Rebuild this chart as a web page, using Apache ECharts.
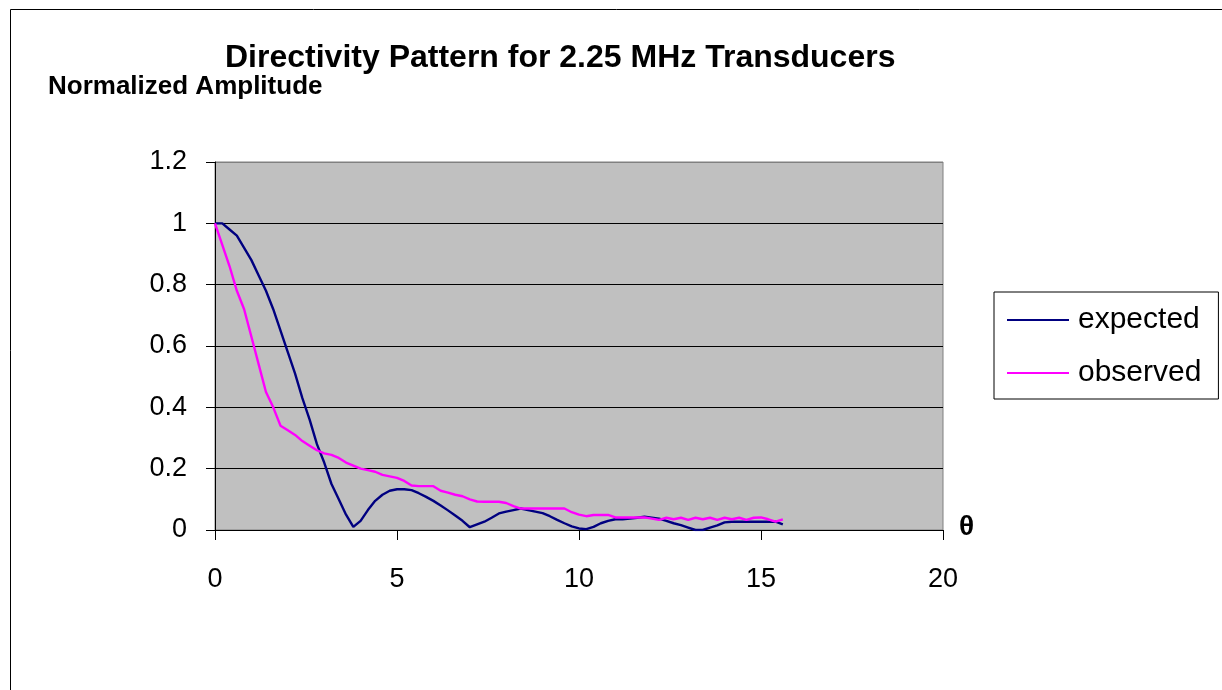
<!DOCTYPE html>
<html>
<head>
<meta charset="utf-8">
<script src="https://cdn.jsdelivr.net/npm/echarts@6/dist/echarts.min.js"></script>
<style>
html,body{margin:0;padding:0;background:#fff;}
#c{width:1222px;height:690px;}
</style>
</head>
<body>
<div id="c"></div>
<script>
const titleText = 'Directivity Pattern for 2.25 MHz Transducers';
const yName = 'Normalized Amplitude';
const xName = 'θ';
const seriesNames = ['expected', 'observed'];
const theta = [0,0.2,0.4,0.6,0.8,1.0,1.2,1.4,1.6,1.8,2.0,2.2,2.4,2.6,2.8,3.0,3.2,3.4,3.6,3.8,
  4.0,4.2,4.4,4.6,4.8,5.0,5.2,5.4,5.6,5.8,6.0,6.2,6.4,6.6,6.8,7.0,7.2,7.4,7.6,7.8,
  8.0,8.2,8.4,8.6,8.8,9.0,9.2,9.4,9.6,9.8,10.0,10.2,10.4,10.6,10.8,11.0,11.2,11.4,11.6,11.8,
  12.0,12.2,12.4,12.6,12.8,13.0,13.2,13.4,13.6,13.8,14.0,14.2,14.4,14.6,14.8,15.0,15.2,15.4,15.6];
const expected = [1.0,1.0,0.98,0.96,0.92,0.88,0.83,0.78,0.72,0.65,0.58,0.51,0.43,0.36,0.28,0.22,0.15,0.10,0.05,0.01,
  0.03,0.065,0.095,0.115,0.128,0.133,0.133,0.13,0.12,0.108,0.095,0.08,0.064,0.047,0.03,0.009,0.018,0.027,0.04,0.054,
  0.06,0.065,0.07,0.065,0.06,0.055,0.045,0.033,0.022,0.012,0.005,0.003,0.01,0.022,0.03,0.035,0.035,0.037,0.04,0.043,
  0.04,0.037,0.03,0.022,0.016,0.008,0.0,0.0,0.008,0.015,0.025,0.027,0.027,0.027,0.027,0.027,0.027,0.027,0.018];
const observed = [1.0,0.93,0.86,0.78,0.72,0.63,0.54,0.45,0.40,0.34,0.325,0.31,0.29,0.275,0.26,0.25,0.245,0.235,0.22,0.21,
  0.20,0.195,0.19,0.18,0.175,0.17,0.16,0.145,0.143,0.143,0.143,0.128,0.122,0.115,0.11,0.10,0.093,0.092,0.092,0.092,
  0.088,0.078,0.07,0.07,0.07,0.07,0.07,0.07,0.07,0.058,0.05,0.045,0.049,0.049,0.049,0.041,0.041,0.041,0.041,0.041,
  0.037,0.033,0.04,0.035,0.04,0.033,0.04,0.035,0.04,0.033,0.04,0.035,0.04,0.033,0.04,0.041,0.035,0.027,0.035];

const FONT = '"Liberation Sans", Arial, sans-serif';
const chart = echarts.init(document.getElementById('c'), null, {renderer: 'canvas'});
chart.setOption({
  animation: false,
  backgroundColor: '#ffffff',
  textStyle: {fontFamily: FONT},
  title: [
    {text: titleText, left: 220, top: 37, textStyle: {fontFamily: FONT, fontWeight: 'bold', fontSize: 32, color: '#000'}},
    {text: yName, left: 43, top: 69, textStyle: {fontFamily: FONT, fontWeight: 'bold', fontSize: 26, color: '#000'}},
    {text: xName, left: 954, top: 508, textStyle: {fontFamily: FONT, fontWeight: 'bold', fontSize: 28, color: '#000'}}
  ],
  graphic: [
    {type: 'rect', z: -1, shape: {x: 10.5, y: 9.5, width: 1300, height: 800}, style: {fill: 'none', stroke: '#000', lineWidth: 1}}
  ],
  legend: {
    orient: 'vertical',
    left: 994, top: 292,
    padding: [13, 17, 11, 12],
    itemGap: 23,
    itemWidth: 62, itemHeight: 2,
    borderColor: '#000', borderWidth: 1,
    backgroundColor: '#fff',
    textStyle: {fontFamily: FONT, fontSize: 30, color: '#000', lineHeight: 30, padding: [0, 0, 0, 4]},
    data: seriesNames
  },
  grid: {
    left: 215, right: 279, top: 162, bottom: 160,
    show: true, backgroundColor: '#C0C0C0', borderColor: '#808080', borderWidth: 1,
    containLabel: false
  },
  xAxis: {
    type: 'value', min: 0, max: 20, interval: 5,
    axisLine: {show: true, onZero: false, lineStyle: {color: '#000', width: 1}},
    axisTick: {show: true, inside: false, length: 10, lineStyle: {color: '#000'}},
    axisLabel: {fontFamily: FONT, fontSize: 27, color: '#000', margin: 36},
    splitLine: {show: false}
  },
  yAxis: {
    type: 'value', min: 0, max: 1.2, interval: 0.2,
    axisLine: {show: true, lineStyle: {color: '#000', width: 1}},
    axisTick: {show: true, inside: false, length: 9, lineStyle: {color: '#000'}},
    axisLabel: {fontFamily: FONT, fontSize: 27, color: '#000', margin: 28, formatter: v => String(Math.round(v * 10) / 10)},
    splitLine: {show: true, lineStyle: {color: ['#000', '#000', '#000', '#000', '#000', '#000', '#808080'], width: 1}}
  },
  series: [
    {name: seriesNames[0], type: 'line', symbol: 'none', showSymbol: false,
     lineStyle: {color: '#000080', width: 2.4}, itemStyle: {color: '#000080'},
     data: theta.map((t, i) => [t, expected[i]])},
    {name: seriesNames[1], type: 'line', symbol: 'none', showSymbol: false,
     lineStyle: {color: '#FF00FF', width: 2.4}, itemStyle: {color: '#FF00FF'},
     data: theta.map((t, i) => [t, observed[i]])}
  ]
});
</script>
</body>
</html>
